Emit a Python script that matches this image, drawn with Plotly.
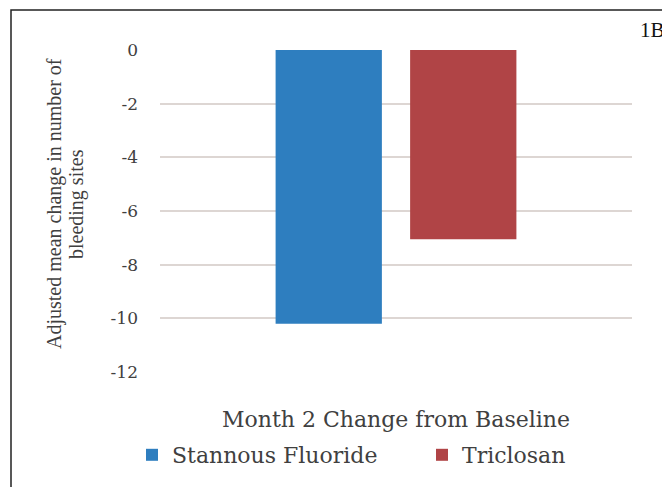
import plotly.graph_objects as go

categories = ["Month 2 Change from Baseline"]
series_names = ["Stannous Fluoride", "Triclosan"]
stannous = [-10.2]
triclosan = [-7.05]
tick_vals = [0, -2, -4, -6, -8, -10, -12]
tick_text = ["0", "-2", "-4", "-6", "-8", "-10", "-12"]
y_title_lines = ["Adjusted mean change in number of", "bleeding sites"]
colors = ["#2e7ebf", "#b04446"]

# figure geometry (page has an 8px body margin)
W, H = 662, 479
L, R, T, B = 152, 38, 42, 115
PW, PH = W - L - R, H - T - B


def px(x):
    return (x - L) / PW


def py(y):
    return (H - B - y) / PH


fig = go.Figure()
fig.add_trace(go.Bar(x=categories, y=stannous, name=series_names[0], marker_color=colors[0], marker_line_width=0))
fig.add_trace(go.Bar(x=categories, y=triclosan, name=series_names[1], marker_color=colors[1], marker_line_width=0))

fig.update_layout(
    template="none",
    width=W, height=H,
    margin=dict(l=L, r=R, t=T, b=B, pad=0, autoexpand=False),
    paper_bgcolor="white", plot_bgcolor="white",
    barmode="group", bargap=0.43, bargroupgap=0.21,
    font=dict(family="DejaVu Serif", color="#404040"),
    showlegend=True,
    legend=dict(orientation="h", x=px(124), xanchor="left", xref="paper",
                y=py(447), yanchor="middle", yref="paper",
                font=dict(size=22, family="DejaVu Serif", color="#404040"),
                entrywidth=245, entrywidthmode="pixels", itemwidth=30, traceorder="normal",
                bgcolor="rgba(0,0,0,0)"),
    xaxis=dict(showgrid=False, showline=False, zeroline=False, ticks="", ticklabelstandoff=32, automargin=False,
               tickfont=dict(size=22, family="DejaVu Serif", color="#404040")),
    yaxis=dict(range=[-12, 0], tickvals=tick_vals, ticktext=tick_text, automargin=False,
               showgrid=True, gridcolor="#ddd6d3", gridwidth=1.5, zeroline=False,
               showline=False, ticks="", ticklabelstandoff=21,
               tickfont=dict(size=17, family="DejaVu Serif", color="#404040")),
    shapes=[dict(type="rect", xref="paper", yref="paper", x0=px(3), x1=px(W + 5),
                 y0=py(H + 5), y1=py(2), line=dict(color="#222222", width=1.5))],
    annotations=[
        dict(text="1B", xref="paper", yref="paper", x=px(644), y=py(22),
             xanchor="center", yanchor="middle", showarrow=False,
             font=dict(size=21, family="Liberation Serif", color="#111111")),
        dict(text=y_title_lines[0], xref="paper", yref="paper", x=px(46), y=py(196),
             xanchor="center", yanchor="middle", textangle=-90, showarrow=False,
             font=dict(size=20, family="Liberation Serif", color="#404040")),
        dict(text=y_title_lines[1], xref="paper", yref="paper", x=px(68), y=py(196),
             xanchor="center", yanchor="middle", textangle=-90, showarrow=False,
             font=dict(size=20, family="Liberation Serif", color="#404040")),
    ],
)

fig.write_html("out.html")
